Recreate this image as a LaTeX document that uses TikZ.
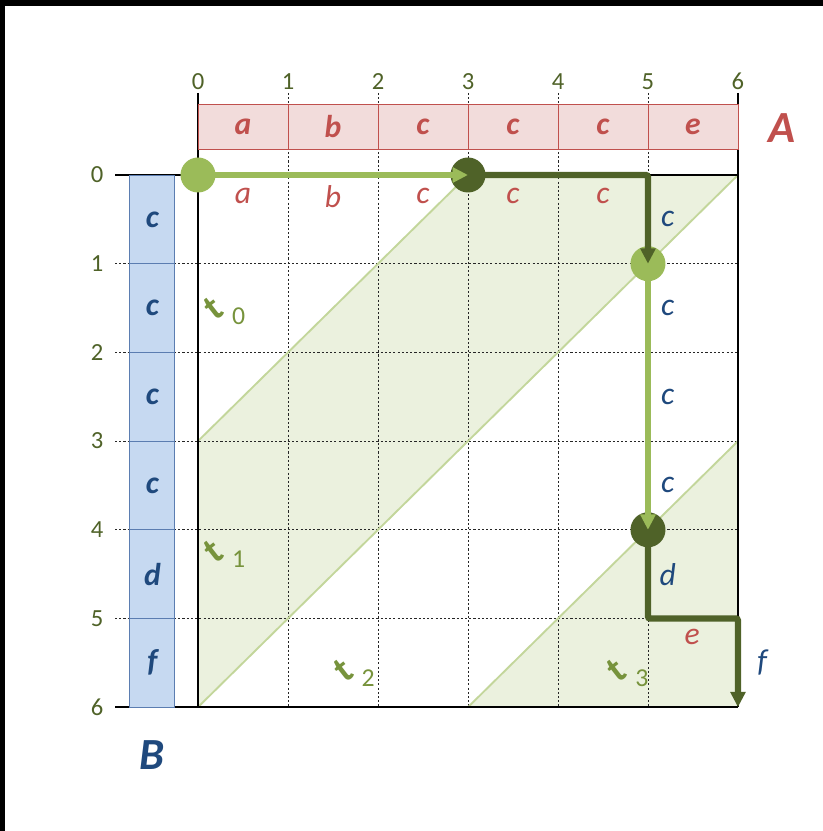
\documentclass[tikz,border=0pt]{standalone}
\usepackage{fontspec}
\setmainfont{Carlito}
\usetikzlibrary{arrows.meta,positioning,calc}
\definecolor{seqred}{HTML}{C0504D}
\definecolor{seqredlight}{HTML}{F2DCDB}
\definecolor{seqblue}{HTML}{1F497D}
\definecolor{seqbluelight}{HTML}{C6D9F1}
\definecolor{seqblueedge}{HTML}{5B7DB1}
\definecolor{olivedark}{HTML}{4F6228}
\definecolor{olivelight}{HTML}{9BBB59}
\definecolor{olivemid}{HTML}{77933C}
\definecolor{bandfill}{HTML}{EBF1DE}
\definecolor{bandedge}{HTML}{C3D69B}
\tikzset{
  num/.style={font=\fontsize{21}{24}\selectfont,text=olivedark,inner sep=0pt},
  cellA/.style={draw=seqred,fill=seqredlight,line width=0.8pt,minimum width=2.7cm,minimum height=1.35cm,
                inner sep=0pt,font=\fontsize{27}{29}\selectfont\bfseries\itshape,text=seqred},
  cellB/.style={draw=seqblueedge,fill=seqbluelight,line width=0.8pt,minimum width=1.35cm,minimum height=2.661cm,
                inner sep=0pt,font=\fontsize{27}{29}\selectfont\bfseries\itshape,text=seqblue},
  big/.style={font=\fontsize{38}{42}\selectfont\bfseries\itshape,inner sep=0pt},
  edgeA/.style={font=\fontsize{27}{29}\selectfont\itshape,text=seqred,inner sep=0pt},
  edgeB/.style={font=\fontsize{27}{29}\selectfont\itshape,text=seqblue,inner sep=0pt},
  tlbl/.style={font=\fontsize{32}{34}\selectfont\bfseries,text=olivemid,inner sep=0pt},
  gridline/.style={line width=0.7pt,black!85,dash pattern=on 1.8pt off 1.8pt},
  axis/.style={line width=1.4pt,black},
  bandline/.style={line width=1.6pt,bandedge},
  lnode/.style={circle,fill=olivelight,minimum size=1.05cm,inner sep=0pt},
  dnode/.style={circle,fill=olivedark,minimum size=1.05cm,inner sep=0pt},
  lpath/.style={line width=5.5pt,olivelight,-{Triangle[length=4.6mm,width=4.4mm]}},
  dpath/.style={line width=5.5pt,olivedark,rounded corners=2pt,-{Triangle[length=4.6mm,width=4.4mm]}},
}
\newcommand{\tsub}[1]{\rotatebox[origin=c]{38}{t}\kern5pt\raisebox{-4pt}{\mdseries\fontsize{22}{24}\selectfont #1}}

\begin{document}
\begin{tikzpicture}[x=2.7cm,y=-2.661cm]
  \useasboundingbox (-2.2,-1.973) rectangle (6.944,7.396);
  % frame edge
  \fill[black] (-2.2,-1.973) rectangle (6.944,-1.905);
  \fill[black] (-2.2,-1.973) rectangle (-2.144,7.396);

  % shaded bands
  \fill[bandfill] (0,3) -- (3,0) -- (6,0) -- (0,6) -- cycle;
  \fill[bandfill] (3,6) -- (6,3) -- (6,6) -- cycle;

  % grid
  \foreach \i in {1,...,5}{
    \draw[gridline] (\i,-0.925) -- (\i,6);
    \draw[gridline] (-0.922,\i) -- (6,\i);
  }
  \draw[bandline] (0,3) -- (3,0);
  \draw[bandline] (0,6) -- (6,0);
  \draw[bandline] (3,6) -- (6,3);
  \draw[axis] (0,-0.925) -- (0,6);
  \draw[axis] (6,-0.925) -- (6,6);
  \draw[axis] (-0.922,0) -- (6,0);
  \draw[axis] (-0.922,6) -- (6,6);

  % scales
  \foreach \i in {0,...,6}{
    \node[num] (top\i) at (\i,-1.054) {\i};
    \node[num] (left\i) at (-1.12,\i) {\i};
  }

  % sequences A and B
  \foreach \s [count=\i] in {a,b,c,c,c,e}
    \node[cellA] (a\i) at (\i-0.5,-0.5465) {\s};
  \foreach \s [count=\i] in {c,c,c,c,d,f}
    \node[cellB] (b\i) at (-0.506,\i-0.5) {\s};
  \node[big,text=seqred] (A) at (6.49,-0.53) {A};
  \node[big,text=seqblue] (B) at (-0.51,6.54) {B};

  % t labels
  \node[tlbl] (t0) at (0.28,1.52) {\tsub{0}};
  \node[tlbl] (t1) at (0.28,4.26) {\tsub{1}};
  \node[tlbl] (t2) at (1.72,5.6) {\tsub{2}};
  \node[tlbl] (t3) at (4.76,5.6) {\tsub{3}};

  % alignment path
  \node[lnode] (c0) at (0,0) {};
  \node[dnode] (c1) at (3,0) {};
  \node[lnode] (c2) at (5,1) {};
  \node[dnode] (c3) at (5,4) {};
  \coordinate (k1) at (5,0);
  \coordinate (k2) at (5,5);
  \coordinate (k3) at (6,5);
  \coordinate (k4) at (6,6);
  \draw[lpath] (c0.center) -- (c1.center);
  \draw[dpath] (c1.center) -- (k1) -- (c2.center);
  \draw[lpath] (c2.center) -- (c3.center);
  \draw[dpath] (c3.center) -- (k2) -- (k3) -- (k4);

  % edit labels
  \foreach \s [count=\i] in {a,b,c,c,c}
    \node[edgeA] (ea\i) at (\i-0.5,0.24) {\s};
  \foreach \s [count=\i] in {c,c,c,c,d}
    \node[edgeB] (eb\i) at (5.22,\i-0.5) {\s};
  \node[edgeA] (ee) at (5.49,5.21) {e};
  \node[edgeB] (ef) at (6.27,5.5) {f};
\end{tikzpicture}
\end{document}
